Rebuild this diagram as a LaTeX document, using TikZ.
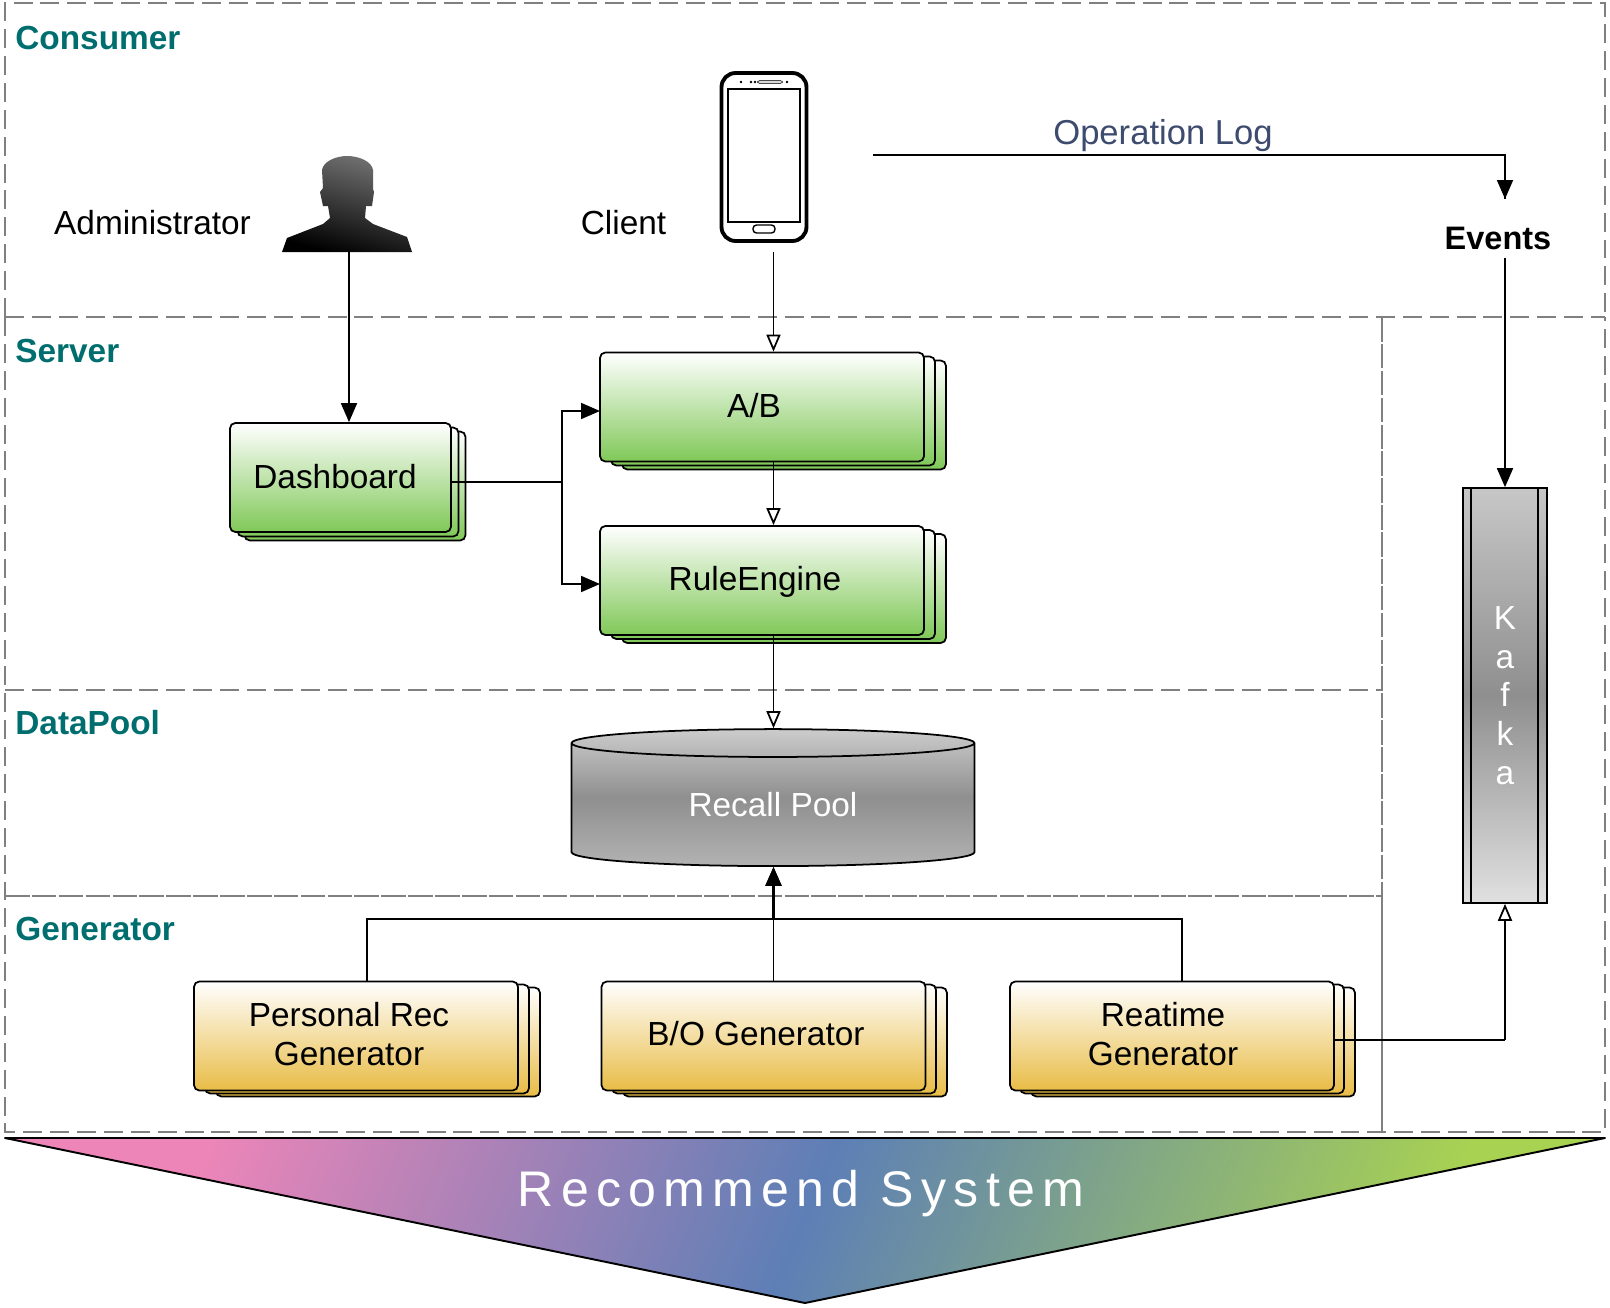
\documentclass[tikz,border=0pt]{standalone}
\usepackage{fontspec}
\setmainfont{Liberation Sans}
\usetikzlibrary{arrows.meta,shapes.geometric}

\begin{document}
\begin{tikzpicture}[
  x=0.02cm,y=-0.02cm,
  font=\fontsize{19}{22}\selectfont,
  frame/.style={draw=gray,line width=1.3pt,dash pattern=on 10.8pt off 4.5pt},
  tightframe/.style={draw=gray,line width=1.2pt,dash pattern=on 14pt off 1.3pt},
  title/.style={font=\fontsize{19}{22}\selectfont\bfseries,text=tealc,anchor=west,inner sep=0pt},
  lab/.style={inner sep=0pt,align=center},
  greenbox/.style={draw=black,line width=1pt,rounded corners=3pt,top color=white,bottom color=greenc,
    minimum width=4.42cm,minimum height=2.18cm,inner sep=0pt},
  bigbox/.style={greenbox,minimum width=6.48cm,minimum height=2.18cm},
  genbox/.style={bigbox,bottom color=goldc},
  flow/.style={draw=black,line width=1pt},
  solid head/.style={flow,-{Triangle[length=0.38cm,width=0.32cm]}},
  open head/.style={flow,-{Triangle[open,fill=white,length=0.34cm,width=0.28cm]}}]

  \definecolor{tealc}{RGB}{0,110,110}
  \definecolor{greenc}{RGB}{128,200,88}
  \definecolor{goldc}{RGB}{232,188,70}
  \definecolor{opc}{RGB}{60,75,110}
  \definecolor{pinkc}{RGB}{238,133,184}
  \definecolor{bluec}{RGB}{93,127,182}
  \definecolor{limec}{RGB}{168,210,82}

  \useasboundingbox (0,0) rectangle (1610,1308);

  % layer frames
  \draw[frame] (5,317) -- (5,3) -- (1605,3) -- (1605,317);
  \draw[frame] (5,317) -- (1605,317);
  \draw[frame] (5,317) -- (5,1132) -- (1605,1132) -- (1605,317);
  \draw[frame,line width=1.1pt] (5,690) -- (1382,690);
  \draw[tightframe] (5,896) -- (1382,896);
  \draw[tightframe] (1382,317) -- (1382,896);
  \draw[draw=gray,line width=1pt] (1382,896) -- (1382,1132);
  \node[title] (consumer) at (15,38) {Consumer};
  \node[title] (server) at (15,351) {Server};
  \node[title] (datapool) at (15,723) {DataPool};
  \node[title] (generator) at (15,929) {Generator};

  % consumer layer
  \node[lab] (admin) at (152.5,223) {Administrator};
  \node[lab] (client) at (623.5,223) {Client};
  \shade[top color=black!55,bottom color=black,shading angle=-15]
    (282,252) -- (287,238) -- (323,224) -- (330,218) -- (328,206) -- (323,206) -- (320,192)
    -- (323,188) -- (322,170) .. controls (323,162) and (335,156) .. (347,156)
    .. controls (360,156) and (372,162) .. (373,170) -- (373,189) -- (374,192) -- (372,206)
    -- (366,206) -- (365,218) -- (373,224) -- (407,237) -- (412,252) -- cycle;
  \coordinate (adminout) at (349,252);

  % phone
  \node[draw=black,line width=2.2pt,rounded corners=8pt,minimum width=1.7cm,minimum height=3.36cm,inner sep=0pt] (phone) at (764,157) {};
  \node[draw=black,line width=1.1pt,minimum width=1.44cm,minimum height=2.66cm,inner sep=0pt] (screen) at (764,155.5) {};
  \node[draw=black,line width=0.8pt,rounded corners=2pt,minimum width=0.44cm,minimum height=0.16cm,inner sep=0pt] (homekey) at (764,229) {};
  \node[draw=black!70,fill=black!15,line width=0.4pt,rounded corners=1pt,minimum width=0.5cm,minimum height=0.06cm,inner sep=0pt] (speaker) at (770,82) {};
  \foreach \dotx in {741,751,755,787}
    \fill (\dotx,82) circle (1.4);
  \coordinate (phoneout) at (773.5,252);

  \node[lab,text=opc,font=\fontsize{19.7}{22}\selectfont] (oplog) at (1163,136) {Operation Log};
  \node[lab,font=\fontsize{18.5}{22}\selectfont\bfseries] (events) at (1498,238) {Events};
  \coordinate (opstart) at (873,155);
  \coordinate (eventin) at (1505,199);
  \coordinate (eventout) at (1505,258);

  % server layer
  \node[greenbox] (dash3) at (355,486) {};
  \node[greenbox] (dash2) at (348,482) {};
  \node[greenbox] (dash) at (340.5,477.5) {};
  \node[lab] (dashtxt) at (335,477) {Dashboard};

  \node[bigbox] (ab3) at (784,415) {};
  \node[bigbox] (ab2) at (773,411) {};
  \node[bigbox] (ab) at (762,407) {};
  \node[lab] (abtxt) at (754,406) {A/B};

  \node[bigbox] (rule3) at (784,588.5) {};
  \node[bigbox] (rule2) at (773,584.5) {};
  \node[bigbox] (rule) at (762,580.5) {};
  \node[lab] (ruletxt) at (755,582) {RuleEngine};

  % datapool layer
  \node[cylinder,shape border rotate=90,aspect=0.165,draw=black,line width=1pt,text=white,inner sep=0pt,
    top color=black!20,bottom color=black!30,middle color=black!44,
    minimum width=8.06cm,minimum height=2.74cm] (pool) at (773,805) {Recall Pool};

  % generator layer
  \node[genbox] (personal3) at (378,1042) {};
  \node[genbox] (personal2) at (367,1039) {};
  \node[genbox] (personal) at (356,1036) {};
  \node[lab] (personaltxt) at (349,1034) {Personal Rec\\Generator};

  \node[genbox] (bo3) at (785,1042) {};
  \node[genbox] (bo2) at (774,1039) {};
  \node[genbox] (bo) at (763.5,1036) {};
  \node[lab] (botxt) at (756,1034) {B/O Generator};

  \node[genbox] (reatime3) at (1193,1042) {};
  \node[genbox] (reatime2) at (1182,1039) {};
  \node[genbox] (reatime) at (1172,1036) {};
  \node[lab] (reatimetxt) at (1163,1034) {Reatime\\Generator};

  % kafka column
  \node[draw=black,line width=1pt,text=white,align=center,inner sep=0pt,
    top color=black!22,bottom color=black!12,middle color=black!44,
    minimum width=1.68cm,minimum height=8.3cm] (kafka) at (1505,695.5) {K\\a\\f\\k\\a};
  \draw[line width=1pt] (1471,488) -- (1471,903);
  \draw[line width=1pt] (1538,488) -- (1538,903);

  % connector points
  \coordinate (dashout) at (451,482);
  \coordinate (branch) at (562,482);
  \coordinate (abin) at (600,411);
  \coordinate (rulein) at (600,584);
  \coordinate (busl) at (367,919);
  \coordinate (busm) at (773.5,919);
  \coordinate (busr) at (1182,919);
  \coordinate (reaout) at (1335,1040);
  \coordinate (kafkain) at (1505,1040);

  % connectors
  \draw[solid head] (adminout) -- (adminout |- dash.north);
  \draw[open head] (phoneout) -- (phoneout |- ab.north);
  \draw[flow] (opstart) -| (eventin);
  \draw[solid head] (opstart -| eventin) -- (eventin);
  \draw[solid head] (eventout) -- (kafka.north);
  \draw[flow] (dashout) -- (branch);
  \draw[solid head] (branch) |- (abin);
  \draw[solid head] (branch) |- (rulein);
  \draw[open head] (phoneout |- ab.south) -- (phoneout |- rule.north);
  \draw[open head] (phoneout |- rule.south) -- (phoneout |- pool.north);
  \draw[flow] (personal.north -| busl) -- (busl) -- (busm);
  \draw[flow] (reatime.north -| busr) -- (busr) -- (busm);
  \draw[solid head] (bo.north -| busm) -- (busm |- pool.south);
  \draw[solid head,line width=1.6pt] (busm) -- (busm |- pool.south);
  \draw[flow] (reaout) -- (kafkain);
  \draw[open head] (kafkain) -- (kafka.south);

  % banner
  \shade[left color=pinkc,right color=limec,middle color=bluec,shading angle=67]
    (5,1138) -- (1605,1138) -- (805,1303) -- cycle;
  \draw[line width=1.1pt,line join=round] (5,1138) -- (1605,1138) -- (805,1303) -- cycle;
  \node[lab,text=white,font=\fontsize{28.5}{32}\selectfont\addfontfeature{LetterSpace=14.5}] (banner) at (801,1194) {Recommend System};
\end{tikzpicture}
\end{document}
